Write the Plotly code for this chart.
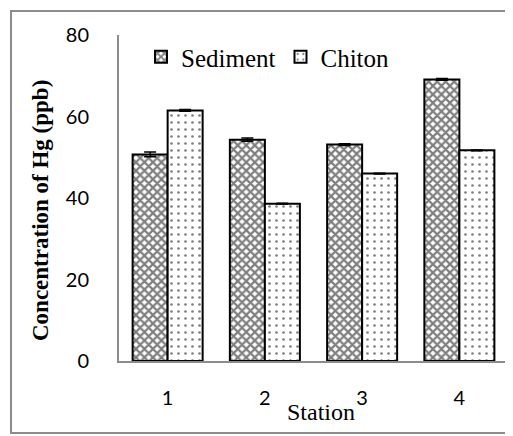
import plotly.graph_objects as go

stations = ["1", "2", "3", "4"]
sediment = [50.7, 54.3, 53.1, 69.1]
sediment_err = [0.6, 0.4, 0.2, 0.2]
chiton = [61.5, 38.6, 46.0, 51.7]
chiton_err = [0.2, 0.1, 0.1, 0.1]
y_ticks = [0, 20, 40, 60, 80]

serif = "Liberation Serif, Times New Roman, serif"
sans = "Lato, Liberation Sans, sans-serif"

fig = go.Figure()
fig.add_trace(go.Bar(
    x=stations, y=sediment, name="Sediment",
    error_y=dict(type="data", array=sediment_err, color="black", thickness=1.5, width=6),
    marker=dict(color="white", line=dict(color="black", width=2),
                pattern=dict(shape="x", fgcolor="black", bgcolor="white", size=6, solidity=0.6)),
))
fig.add_trace(go.Bar(
    x=stations, y=chiton, name="Chiton",
    error_y=dict(type="data", array=chiton_err, color="black", thickness=1.5, width=6),
    marker=dict(color="white", line=dict(color="black", width=2),
                pattern=dict(shape=".", fgcolor="black", bgcolor="white", size=7, solidity=0.12)),
))

OFF = 8  # page body margin
W, H = 505, 428
L, R, T, B = 111, 5, 27, 75
pw, ph = W - L - R, H - T - B

def px(x):
    return (x - OFF - L) / pw

def py(y):
    return (H - B - (y - OFF)) / ph

fig.update_layout(
    width=W, height=H,
    margin=dict(l=L, r=R, t=T, b=B),
    paper_bgcolor="white", plot_bgcolor="white",
    barmode="group", bargap=0.28, bargroupgap=0,
    showlegend=True,
    legend=dict(orientation="h", x=px(141), y=py(57), xanchor="left", yanchor="middle",
                font=dict(family=serif, size=25, color="black"),
                bgcolor="rgba(0,0,0,0)", itemwidth=30, tracegroupgap=0),
    xaxis=dict(showline=True, linecolor="#8c8c8c", linewidth=2, ticks="",
               showgrid=False, tickfont=dict(family=sans, size=20, color="black"),
               ticklabelstandoff=18),
    yaxis=dict(range=[0, 80], tickvals=y_ticks, showline=True, linecolor="#8c8c8c",
               linewidth=2, ticks="", showgrid=False, zeroline=False,
               tickfont=dict(family=sans, size=20, color="black"),
               ticklabelstandoff=24),
    annotations=[
        dict(text="<b>Concentration of Hg (ppb)</b>", xref="paper", yref="paper",
             x=px(40), y=py(211), textangle=-90, showarrow=False,
             font=dict(family=serif, size=23, color="black"),
             xanchor="center", yanchor="middle"),
        dict(text="Station", xref="paper", yref="paper", x=px(321), y=py(412),
             showarrow=False, font=dict(family=serif, size=24, color="black"),
             xanchor="center", yanchor="middle"),
    ],
    shapes=[
        dict(type="rect", xref="paper", yref="paper", x0=px(11), x1=px(540),
             y0=py(433), y1=py(11), line=dict(color="#8c8c8c", width=2),
             fillcolor="rgba(0,0,0,0)", layer="below"),
    ],
)

fig.write_html("out.html")
